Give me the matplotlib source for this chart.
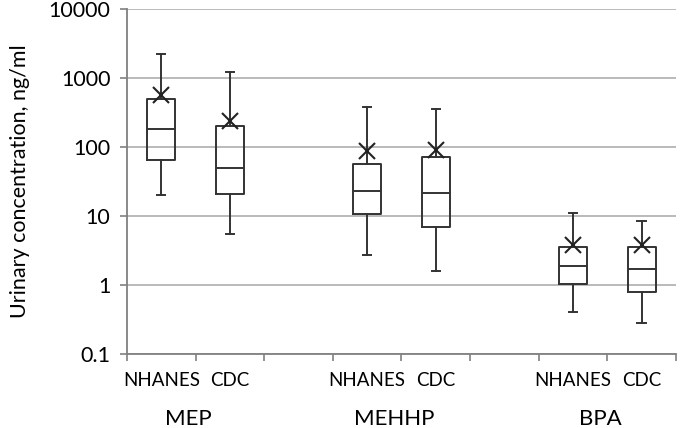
import matplotlib.pyplot as plt
import numpy as np

plt.rcParams['font.family'] = ['Lato', 'DejaVu Sans']

compounds = ['MEP', 'MEHHP', 'BPA']
sources = ['NHANES', 'CDC']
# one entry per box: NHANES/CDC for MEP, MEHHP, BPA
positions = [1, 2, 4, 5, 7, 8]
whisker_low = [20, 5.5, 2.7, 1.6, 0.41, 0.28]
q1 = [65, 21, 10.8, 7.0, 1.03, 0.79]
median = [185, 50, 23.5, 22, 1.9, 1.72]
q3 = [500, 205, 57, 73, 3.6, 3.6]
whisker_high = [2250, 1220, 385, 360, 11, 8.6]
mean = [580, 240, 87, 90, 3.8, 3.8]

stats = []
for i in range(len(positions)):
    stats.append({'whislo': whisker_low[i], 'q1': q1[i], 'med': median[i],
                  'q3': q3[i], 'whishi': whisker_high[i], 'mean': mean[i],
                  'fliers': []})

fig = plt.figure(figsize=(6.81, 4.28), dpi=100)
ax = fig.add_axes([0.1865, 0.173, 0.806, 0.805])

line = dict(color='#333333', linewidth=1.4)
ax.bxp(stats, positions=positions, widths=0.41, showmeans=True,
       boxprops=line, whiskerprops=line, capprops=line, medianprops=line,
       meanprops=dict(marker='x', markersize=11, markeredgecolor='#222222',
                      markeredgewidth=1.5),
       capwidths=0.12, manage_ticks=False, zorder=3)

ax.set_yscale('log')
ax.set_ylim(0.1, 10000)
ax.set_xlim(0.5, 8.5)
ax.set_yticks([0.1, 1, 10, 100, 1000, 10000])
ax.set_yticklabels(['0.1', '1', '10', '100', '1000', '10000'])
ax.yaxis.set_minor_locator(plt.NullLocator())
ax.grid(axis='y', color='#b4b4b4', linewidth=1.3, zorder=0)
ax.set_axisbelow(True)

# category boundaries carry the tick marks, labels sit in the slot centres
ax.set_xticks(np.arange(0.5, 9, 1), minor=True)
ax.set_xticks(positions)
ax.set_xticklabels(sources * 3, fontsize=13.5)
ax.tick_params(axis='x', which='major', length=0, pad=13)
ax.tick_params(axis='x', which='minor', length=5, color='#808080', width=1.2)
ax.tick_params(axis='y', length=5, color='#808080', width=1.2, labelsize=15.5, pad=7)

for spine in ['top', 'right']:
    ax.spines[spine].set_visible(False)
for spine in ['left', 'bottom']:
    ax.spines[spine].set_color('#808080')
    ax.spines[spine].set_linewidth(1.3)

for k, name in enumerate(compounds):
    ax.text(3 * k + 1.4, -0.19, name, transform=ax.get_xaxis_transform(),
            ha='center', va='center', fontsize=16)

ax.set_ylabel('Urinary concentration, ng/ml', fontsize=15.5, labelpad=13)

fig.savefig('out.png', dpi=100)
